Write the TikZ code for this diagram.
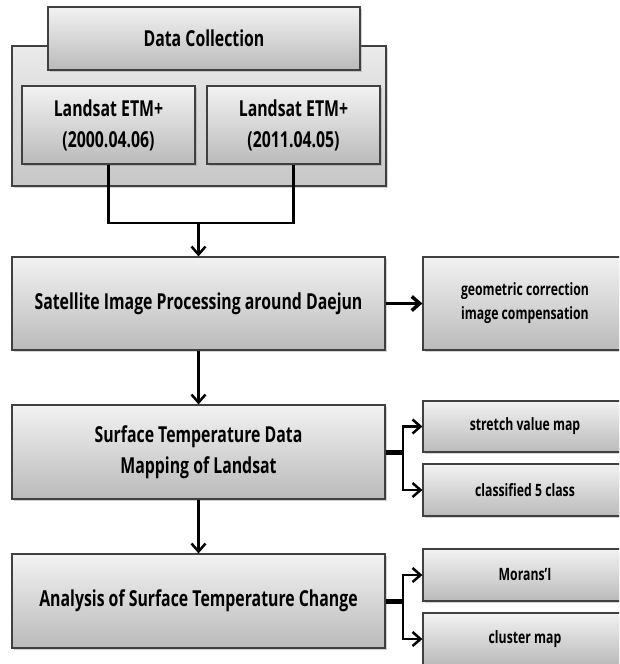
\documentclass[tikz,border=0pt]{standalone}
\usepackage{fontspec}
\setmainfont{Open Sans}[FakeStretch=0.72]
\usetikzlibrary{arrows.meta,shadows}
\begin{document}
\begin{tikzpicture}[x=1pt,y=-1pt,
	box/.style={draw=black!75, line width=1.2pt, rectangle, top color=white!95!black, bottom color=black!27, drop shadow={opacity=0.35,shadow xshift=1.5pt,shadow yshift=-1.5pt}, inner sep=0pt, align=center, font=\fontsize{22}{31}\selectfont\bfseries},
	small/.style={font=\fontsize{17}{24}\selectfont\bfseries},
	line/.style={line width=2.5pt},
	arrow/.style={line width=2.5pt, -{Straight Barb[length=8pt,width=14pt]}}]
	
	\useasboundingbox (0,0) rectangle (619,664);
	\clip (0,0) rectangle (619,664);
	
	\node[box, minimum width=374, minimum height=140, top color=white!92!black, bottom color=black!22] (0) at (199,116) {};
	\node[box, minimum width=312, minimum height=63] (1) at (204,38.5) {Data Collection};
	\node[box, minimum width=173, minimum height=78] (2) at (108.5,125) {Landsat ETM+\\(2000.04.06)};
	\node[box, minimum width=173, minimum height=78] (3) at (293.5,125) {Landsat ETM+\\(2011.04.05)};
	
	\node[box, minimum width=373, minimum height=93] (4) at (198.5,303.5) {Satellite Image Processing around Daejun};
	\node[box, small, minimum width=204, minimum height=93] (5) at (525,303.5) {geometric correction\\image compensation};
	
	\node[box, minimum width=373, minimum height=94] (6) at (198.5,452) {Surface Temperature Data\\Mapping of Landsat};
	\node[box, small, minimum width=204, minimum height=51] (7) at (525,426.5) {stretch value map};
	\node[box, small, minimum width=204, minimum height=52] (8) at (525,490) {classified 5 class};
	
	\node[box, minimum width=373, minimum height=94] (9) at (198.5,601) {Analysis of Surface Temperature Change};
	\node[box, small, minimum width=204, minimum height=52] (10) at (525,575) {Morans'I};
	\node[box, small, minimum width=204, minimum height=52] (11) at (525,639) {cluster map};
	
	\coordinate (j) at (198.5,223);
	\coordinate (b1) at (403,452);
	\coordinate (b2) at (403,601);
	
	\draw[line] (2.south) |- (j) -| (3.south);
	\draw[arrow] (j) -- (4);
	\draw[arrow, line width=3.5pt] (4) -- (5);
	\draw[arrow] (4) -- (6);
	\draw[arrow] (6) -- (9);
	
	\draw[line, line width=5pt] (6) -- (b1);
	\draw[arrow] (b1) |- (7);
	\draw[arrow] (b1) |- (8);
	
	\draw[line, line width=5pt] (9) -- (b2);
	\draw[arrow] (b2) |- (10);
	\draw[arrow] (b2) |- (11);
	
\end{tikzpicture}
\end{document}
